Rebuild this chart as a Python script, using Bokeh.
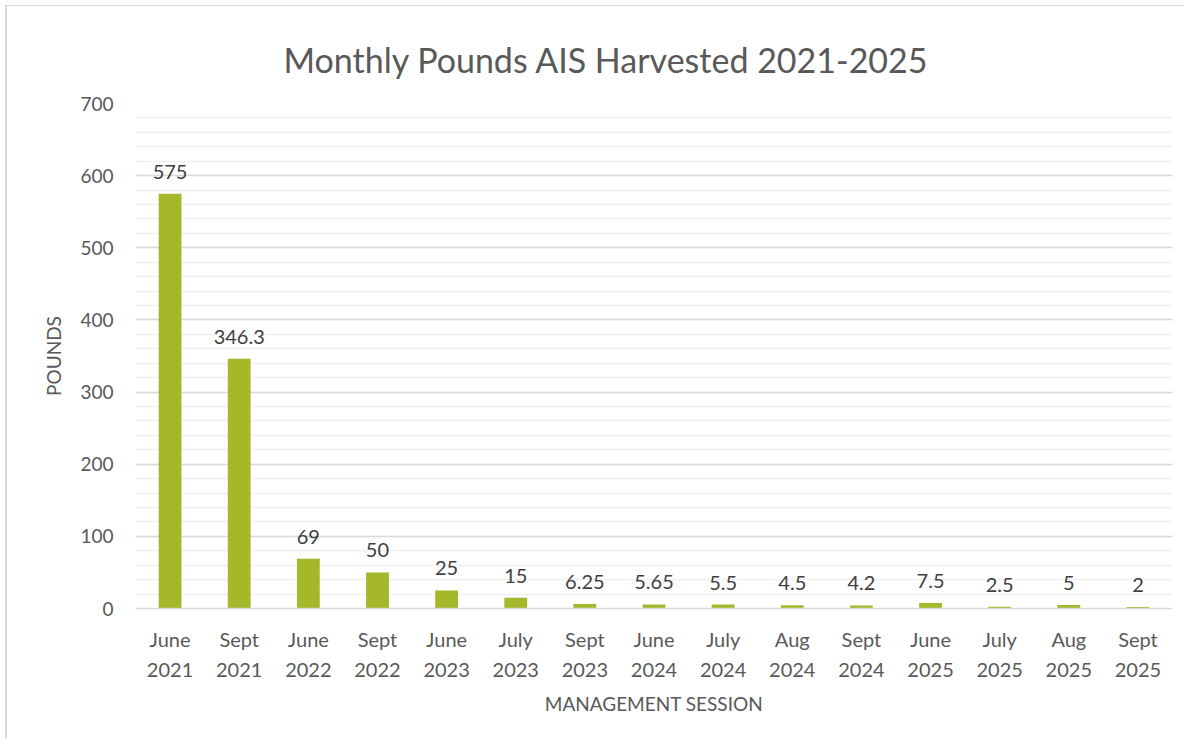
from bokeh.plotting import figure
from bokeh.models import ColumnDataSource, FixedTicker, Range1d, FactorRange
from bokeh.core.properties import value
from bokeh.embed import file_html
from bokeh.resources import INLINE

months = ["June", "Sept", "June", "Sept", "June", "July", "Sept", "June", "July", "Aug", "Sept", "June", "July", "Aug", "Sept"]
years = ["2021", "2021", "2022", "2022", "2023", "2023", "2023", "2024", "2024", "2024", "2024", "2025", "2025", "2025", "2025"]
pounds = [575, 346.3, 69, 50, 25, 15, 6.25, 5.65, 5.5, 4.5, 4.2, 7.5, 2.5, 5, 2]
labels = ["575", "346.3", "69", "50", "25", "15", "6.25", "5.65", "5.5", "4.5", "4.2", "7.5", "2.5", "5", "2"]
y_ticks = [0, 100, 200, 300, 400, 500, 600, 700]

cats = [f"{m}\n{y}" for m, y in zip(months, years)]
src = ColumnDataSource(dict(cat=cats, val=pounds, lab=labels))

FONT = "Lato"
GRAY = "#595959"
BAR = "#a5b82a"

p = figure(width=1179, height=733, x_range=FactorRange(factors=cats, range_padding=0),
           y_range=Range1d(0, 700), output_backend="svg", toolbar_location=None,
           min_border_left=128, min_border_right=14, min_border_top=97, min_border_bottom=131)
p.outline_line_color = None
p.background_fill_color = "white"
p.border_fill_color = "white"

p.title.text = "Monthly Pounds AIS Harvested 2021-2025"
p.title.align = "left"
p.title.offset = 148
p.title.standoff = 48
p.title.text_font = FONT
p.title.text_font_size = "34px"
p.title.text_font_style = "normal"
p.title.text_color = GRAY

p.vbar(x="cat", top="val", width=0.33, source=src, fill_color=BAR, line_color=None)
p.text(x="cat", y="val", text="lab", source=src, text_align="center", text_baseline="bottom",
       y_offset=-15, text_font=value(FONT), text_font_size="20px", text_color="#404040")

p.yaxis.ticker = FixedTicker(ticks=y_ticks, minor_ticks=list(range(0, 701, 20)))
p.yaxis.axis_line_color = None
p.yaxis.major_tick_line_color = None
p.yaxis.minor_tick_line_color = None
p.yaxis.major_label_text_font = FONT
p.yaxis.major_label_text_font_size = "19px"
p.yaxis.major_label_text_color = GRAY
p.yaxis.major_label_standoff = 16
p.yaxis.axis_label = "POUNDS"
p.yaxis.axis_label_text_font = FONT
p.yaxis.axis_label_text_font_size = "19px"
p.yaxis.axis_label_text_font_style = "normal"
p.yaxis.axis_label_text_color = GRAY
p.yaxis.axis_label_standoff = 12

p.ygrid.grid_line_color = "#d9d9d9"
p.ygrid.grid_line_width = 1.5
p.ygrid.minor_grid_line_color = "#f0f0f0"
p.ygrid.minor_grid_line_width = 1.5
p.xgrid.grid_line_color = None

p.xaxis.axis_line_color = "#d9d9d9"
p.xaxis.axis_line_width = 1.5
p.xaxis.major_tick_line_color = None
p.xaxis.minor_tick_line_color = None
p.xaxis.major_label_text_font = FONT
p.xaxis.major_label_text_font_size = "20px"
p.xaxis.major_label_text_color = GRAY
p.xaxis.major_label_text_line_height = 1.25
p.xaxis.major_label_standoff = 12
p.xaxis.axis_label = "MANAGEMENT SESSION"
p.xaxis.axis_label_text_font = FONT
p.xaxis.axis_label_text_font_size = "19px"
p.xaxis.axis_label_text_font_style = "normal"
p.xaxis.axis_label_text_color = GRAY
p.xaxis.axis_label_standoff = 8

p.styles = {"border-left": "2px solid #d9d9d9", "border-top": "1px solid #d9d9d9",
            "margin-left": "5px", "margin-top": "5px"}

open("out.html", "w").write(file_html(p, INLINE))
